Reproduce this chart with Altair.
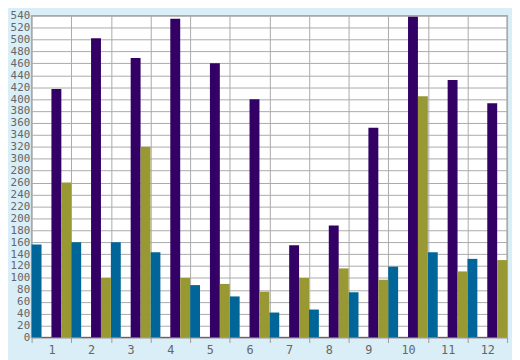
import altair as alt
import pandas as pd

categories = [str(i) for i in range(1, 13)]
series_names = ["Blue", "Red", "Purple", "Olive"]
series_colors = ["#006699", "#990000", "#330066", "#999933"]

blue_values = [156, 160, 160, 143, 88, 69, 42, 47, 76, 119, 143, 132]
red_values = [1, 1, 1, 1, 1, 1, 1, 1, 1, 1, 1, 1]
purple_values = [417, 502, 469, 535, 460, 400, 155, 188, 352, 538, 432, 393]
olive_values = [260, 100, 320, 100, 90, 77, 100, 116, 97, 405, 111, 130]

y_ticks = list(range(0, 541, 20))

rows = []
for name, vals in zip(series_names, [blue_values, red_values, purple_values, olive_values]):
    for c, v in zip(categories, vals):
        rows.append({"cat": c, "series": name, "value": v})
df = pd.DataFrame(rows)

label_font = "DejaVu Sans Mono"

chart = alt.Chart(df).mark_bar().encode(
    x=alt.X("cat:O", sort=categories, title=None,
            scale=alt.Scale(paddingInner=0, paddingOuter=0),
            axis=alt.Axis(tickBand="extent", labelAngle=0, grid=True, gridColor="#aaaaaa",
                          domain=False, ticks=True, tickColor="#999999", tickSize=5,
                          labelColor="#666666", labelFont=label_font, labelFontSize=12,
                          labelPadding=2)),
    xOffset=alt.XOffset("series:N", sort=series_names,
                        scale=alt.Scale(paddingInner=0, paddingOuter=0)),
    y=alt.Y("value:Q", title=None,
            scale=alt.Scale(domain=[0, 540], nice=False),
            axis=alt.Axis(values=y_ticks, grid=True, gridColor="#aaaaaa", domain=False,
                          ticks=False, labelColor="#666666", labelFont=label_font,
                          labelFontSize=11, labelPadding=2)),
    color=alt.Color("series:N", sort=series_names,
                    scale=alt.Scale(domain=series_names, range=series_colors), legend=None),
).properties(
    width=483, height=327,
    autosize=alt.AutoSizeParams(type="none"),
    padding={"left": 24, "top": 5, "right": 5, "bottom": 20},
    background="#D9EEF6",
).configure_view(
    stroke="#aaaaaa", fill="white", strokeWidth=1.5
)

chart.save("out.html", embed_options={"renderer": "svg", "actions": False})
